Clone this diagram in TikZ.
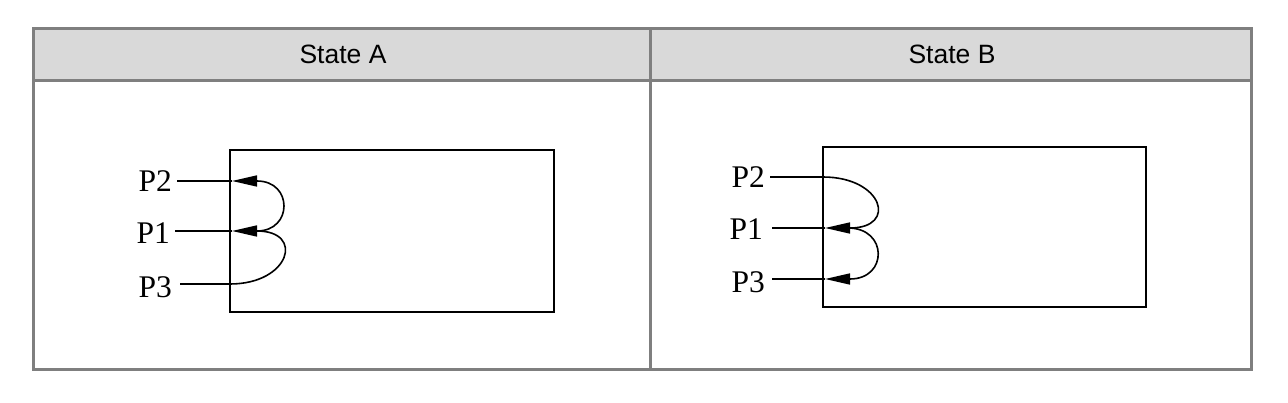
\documentclass[tikz,border=0pt]{standalone}
\usepackage{fontspec}
\setmainfont{Liberation Sans}
\newfontfamily\lblfont{Liberation Serif}
\usetikzlibrary{arrows.meta}
\definecolor{gridgray}{HTML}{7F7F7F}
\definecolor{headfill}{HTML}{D9D9D9}
\tikzset{
  cellborder/.style={draw=gridgray, line width=3pt},
  headtext/.style={font=\fontsize{26.5}{30}\selectfont, inner sep=0pt},
  plabel/.style={font=\lblfont\fontsize{31.5}{36}\selectfont, inner sep=0pt, anchor=east},
  wire/.style={line width=1.6pt, black},
  tipwire/.style={wire, -{Triangle[length=25pt,width=11pt]}},
  chip/.style={draw=black, line width=1.6pt}
}
\begin{document}
\begin{tikzpicture}[x=1pt,y=-1pt]
\useasboundingbox (0,0) rectangle (1288,403);
% table
\fill[headfill] (33,29) rectangle (1251,81);
\draw[cellborder] (33,29) rectangle (1251,369);
\draw[cellborder] (33,81) -- (1251,81);
\draw[cellborder] (650,29) -- (650,369);
\node[headtext] (ha) at (343,54) {State A};
\node[headtext] (hb) at (952,54) {State B};
% ---------- State A ----------
\draw[chip] (230,150) rectangle (554,312);
\node[plabel] (a2) at (172,181) {P2};
\node[plabel] (a1) at (170,233) {P1};
\node[plabel] (a3) at (172,287) {P3};
\coordinate (a2e) at (232,181);
\coordinate (a1e) at (232,231);
\coordinate (a3e) at (230,284);
\draw[wire] (a2.east |- a2e) ++(5,0) -- (a2e);
\draw[wire] (a1.east |- a1e) ++(5,0) -- (a1e);
\draw[wire] (a3.east |- a3e) ++(8,0) -- (a3e);
\draw[tipwire] (257,231) .. controls (293,231) and (293,181) .. (257,181) -- (a2e);
\draw[tipwire] (a3e) .. controls (290,284) and (305,231) .. (257,231) -- (a1e);
% ---------- State B ----------
\draw[chip] (823,147) rectangle (1146,307);
\node[plabel] (b2) at (765,177) {P2};
\node[plabel] (b1) at (763,229) {P1};
\node[plabel] (b3) at (765,282) {P3};
\coordinate (b2e) at (823,177);
\coordinate (b1e) at (825,228);
\coordinate (b3e) at (825,279);
\draw[wire] (b2.east |- b2e) ++(5,0) -- (b2e);
\draw[wire] (b1.east |- b1e) ++(9,0) -- (b1e);
\draw[wire] (b3.east |- b3e) ++(7,0) -- (b3e);
\draw[tipwire] (b2e) .. controls (883,177) and (898,228) .. (850,228) -- (b1e);
\draw[tipwire] (848,228) .. controls (888,228) and (888,279) .. (850,279) -- (b3e);
\end{tikzpicture}
\end{document}
